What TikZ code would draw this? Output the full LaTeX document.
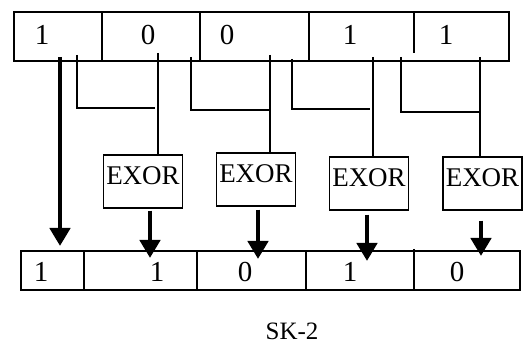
\documentclass[tikz,border=0pt]{standalone}
\usepackage{fontspec}
\setmainfont{Liberation Serif}
\usetikzlibrary{arrows.meta}

\begin{document}
\begin{tikzpicture}[x=1pt, y=-1pt,
    reg/.style={line width=1.2pt},
    tap/.style={line width=1.2pt},
    bit/.style={inner sep=0pt, font=\fontsize{29}{29}\selectfont},
    gate/.style={draw, line width=1.2pt, inner sep=0pt, minimum width=79pt,
                 text height=30pt, text depth=23pt, font=\fontsize{27}{27}\selectfont},
    bigarrow/.style={line width=4.5pt, -{Triangle[width=20pt,length=18pt]}}]

    \useasboundingbox (0,0) rectangle (525,344);

    % Registro de entrada
    \draw[reg] (14,12) rectangle (509,61);
    \draw[reg] (102,12) -- (102,61);
    \draw[reg] (200,12) -- (200,61);
    \draw[reg] (309,12) -- (309,61);
    \draw[reg] (414,12) -- (414,53);
    \node[bit] (a1) at (42,35) {1};
    \node[bit] (a2) at (148,35) {0};
    \node[bit] (a3) at (227,35) {0};
    \node[bit] (a4) at (350,35) {1};
    \node[bit] (a5) at (446,35) {1};

    % Registro de salida
    \draw[reg] (21,251) rectangle (520,290);
    \draw[reg] (84,251) -- (84,290);
    \draw[reg] (197,251) -- (197,290);
    \draw[reg] (306,251) -- (306,290);
    \draw[reg] (414,249) -- (414,290);
    \node[bit] (b1) at (41,272) {1};
    \node[bit] (b2) at (157,272) {1};
    \node[bit] (b3) at (245,272) {0};
    \node[bit] (b4) at (350,272) {1};
    \node[bit] (b5) at (457,272) {0};

    % Compuertas EXOR
    \node[gate] (x1) at (143,181.5) {EXOR};
    \node[gate] (x2) at (256,179.5) {EXOR};
    \node[gate] (x3) at (369,183.5) {EXOR};
    \node[gate] (x4) at (482.5,183.5) {EXOR};

    % Puntos de toma en el registro de entrada
    \coordinate (l1) at (77,55);   \coordinate (r1) at (158,53);
    \coordinate (l2) at (191,57);  \coordinate (r2) at (270,55);
    \coordinate (l3) at (292,59);  \coordinate (r3) at (373,57);
    \coordinate (l4) at (401,57);  \coordinate (r4) at (480,57);

    % Lineas hacia las compuertas
    \draw[tap] (l1) -- (77,108) -- (155,108);
    \draw[tap] (r1) -- (x1.north -| r1);
    \draw[tap] (l2) -- (191,110) -- (r2 |- 0,110);
    \draw[tap] (r2) -- (x2.north -| r2);
    \draw[tap] (l3) -- (292,109) -- (370,109);
    \draw[tap] (r3) -- (x3.north -| r3);
    \draw[tap] (l4) -- (401,112) -- (r4 |- 0,112);
    \draw[tap] (r4) -- (x4.north -| r4);

    % Flechas de salida
    \coordinate (s0) at (60,57);
    \coordinate (o1) at (60,246);
    \coordinate (o2) at (150,258);
    \coordinate (o3) at (258,259);
    \coordinate (o4) at (367,261);
    \coordinate (o5) at (481,256);
    \draw[bigarrow] (s0) -- (o1);
    \draw[bigarrow] ([yshift=-2pt]x1.south -| o2) -- (o2);
    \draw[bigarrow] ([yshift=-3pt]x2.south -| o3) -- (o3);
    \draw[bigarrow] ([yshift=-4pt]x3.south -| o4) -- (o4);
    \draw[bigarrow] ([yshift=-10pt]x4.south -| o5) -- (o5);

    % Etiqueta
    \node[inner sep=0pt, font=\fontsize{25}{25}\selectfont] (cap) at (292,331) {SK-2};

\end{tikzpicture}
\end{document}
